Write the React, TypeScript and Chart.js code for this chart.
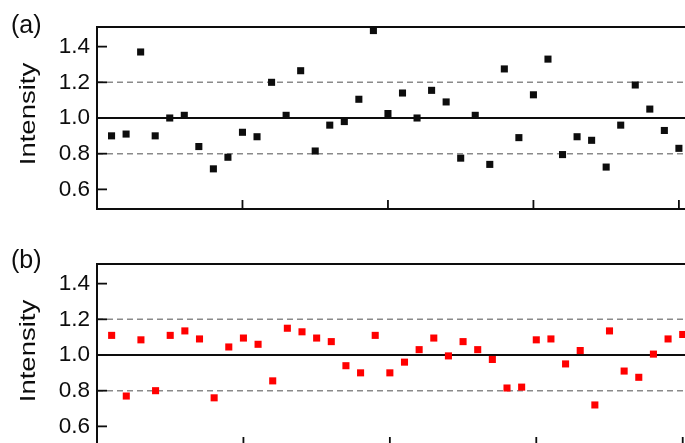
import React, { useEffect, useRef } from 'react';
import { Chart, registerables } from 'chart.js';

Chart.register(...registerables);

// ---------- data ----------
const xIndex = [
  1, 2, 3, 4, 5, 6, 7, 8, 9, 10,
  11, 12, 13, 14, 15, 16, 17, 18, 19, 20,
  21, 22, 23, 24, 25, 26, 27, 28, 29, 30,
  31, 32, 33, 34, 35, 36, 37, 38, 39, 40,
];

const seriesA = [
  0.9, 0.91, 1.37, 0.9, 1.0, 1.015, 0.84, 0.715, 0.78, 0.92,
  0.895, 1.2, 1.015, 1.265, 0.815, 0.96, 0.98, 1.105, 1.49, 1.025,
  1.14, 1.0, 1.155, 1.09, 0.775, 1.015, 0.74, 1.275, 0.89, 1.13,
  1.33, 0.795, 0.895, 0.875, 0.725, 0.96, 1.185, 1.05, 0.93, 0.83,
];

const seriesB = [
  1.11, 0.77, 1.085, 0.8, 1.11, 1.135, 1.09, 0.76, 1.045, 1.095,
  1.06, 0.855, 1.15, 1.13, 1.095, 1.075, 0.94, 0.9, 1.11, 0.9,
  0.96, 1.03, 1.095, 0.995, 1.075, 1.03, 0.975, 0.815, 0.82, 1.085,
  1.09, 0.95, 1.025, 0.72, 1.135, 0.91, 0.875, 1.005, 1.09, 1.115,
];

const yTickValues = [0.6, 0.8, 1.0, 1.2, 1.4];
const yTickLabels = ['0.6', '0.8', '1.0', '1.2', '1.4'];
const xTickValues = [10, 20, 30, 40];
const refSolid = [1.0];
const refDashed = [0.8, 1.2];
const panelLabels = ['(a)', '(b)'];
const yTitle = 'Intensity';

const FONT = '"Liberation Sans", Arial, Helvetica, sans-serif';
const INK = '#0d0d0d';

const framePlugin = {
  id: 'framePlugin',
  beforeDatasetsDraw(chart: any) {
    const { ctx, chartArea: a, scales } = chart;
    const x = scales.x;
    const y = scales.y;
    ctx.save();
    // dashed reference lines
    ctx.strokeStyle = '#8a8a8a';
    ctx.lineWidth = 1.5;
    ctx.setLineDash([6, 4]);
    refDashed.forEach((v) => {
      const py = y.getPixelForValue(v);
      ctx.beginPath();
      ctx.moveTo(a.left, py);
      ctx.lineTo(a.right, py);
      ctx.stroke();
    });
    ctx.setLineDash([]);
    // solid reference line
    ctx.strokeStyle = INK;
    ctx.lineWidth = 1.8;
    refSolid.forEach((v) => {
      const py = y.getPixelForValue(v);
      ctx.beginPath();
      ctx.moveTo(a.left, py);
      ctx.lineTo(a.right, py);
      ctx.stroke();
    });
    // frame
    ctx.lineWidth = 2;
    ctx.strokeRect(a.left, a.top, a.right - a.left, a.bottom - a.top);
    // inward ticks
    ctx.lineWidth = 1.8;
    yTickValues.forEach((v) => {
      const py = y.getPixelForValue(v);
      ctx.beginPath();
      ctx.moveTo(a.left, py);
      ctx.lineTo(a.left + 10, py);
      ctx.stroke();
    });
    xTickValues.forEach((v) => {
      const px = x.getPixelForValue(v);
      ctx.beginPath();
      ctx.moveTo(px, a.bottom);
      ctx.lineTo(px, a.bottom - 9);
      ctx.stroke();
    });
    ctx.restore();
  },
};

type PanelProps = {
  values: number[];
  color: string;
  top: number;
  width: number;
  height: number;
  padTop: number;
  padBottom: number;
  xMax: number;
  label: string;
  labelTop: number;
  titleCenterY: number;
};

function Panel(p: PanelProps) {
  const ref = useRef<HTMLCanvasElement>(null);
  useEffect(() => {
    if (!ref.current) return;
    const chart = new Chart(ref.current, {
      type: 'scatter',
      data: {
        datasets: [
          {
            data: xIndex.map((xv, i) => ({ x: xv, y: p.values[i] })),
            pointStyle: 'rect',
            pointRadius: 5,
            pointHoverRadius: 5,
            pointBackgroundColor: p.color,
            pointBorderColor: p.color,
            pointBorderWidth: 0,
            showLine: false,
          } as any,
        ],
      },
      options: {
        animation: false,
        responsive: false,
        maintainAspectRatio: false,
        devicePixelRatio: 1,
        events: [],
        layout: {
          padding: { top: p.padTop, bottom: p.padBottom, left: 0, right: 0 },
          autoPadding: false,
        } as any,
        plugins: {
          legend: { display: false },
          tooltip: { enabled: false },
          title: { display: false },
        },
        scales: {
          x: {
            type: 'linear',
            display: false,
            min: 0,
            max: p.xMax,
          },
          y: {
            type: 'linear',
            min: 0.49,
            max: 1.51,
            grid: { display: false, drawTicks: false },
            border: { display: false },
            ticks: {
              font: { family: FONT, size: 22.5 },
              color: INK,
              padding: 7,
              callback: (_v: any, i: number) => yTickLabels[i],
            },
            afterBuildTicks: (s: any) => {
              s.ticks = yTickValues.map((v) => ({ value: v }));
            },
            afterFit: (s: any) => {
              s.width = 97;
            },
          },
        },
      } as any,
      plugins: [framePlugin],
    });
    return () => chart.destroy();
  }, []);

  return (
    <>
      <canvas
        ref={ref}
        width={p.width}
        height={p.height}
        style={{ position: 'absolute', left: 0, top: p.top, width: p.width, height: p.height }}
      />
      <div
        style={{
          position: 'absolute',
          left: 11,
          top: p.labelTop,
          fontFamily: FONT,
          fontSize: 25,
          lineHeight: '25px',
          color: INK,
          whiteSpace: 'nowrap',
        }}
      >
        {p.label}
      </div>
      <div
        style={{
          position: 'absolute',
          left: 28,
          top: p.titleCenterY,
          fontFamily: FONT,
          fontSize: 22,
          lineHeight: '22px',
          color: INK,
          whiteSpace: 'nowrap',
          transform: 'translate(-50%, -50%) rotate(-90deg) scaleX(1.25)',
        }}
      >
        {yTitle}
      </div>
    </>
  );
}

export default function App() {
  return (
    <div
      style={{
        position: 'absolute',
        left: 0,
        top: 0,
        width: 685,
        height: 443,
        overflow: 'hidden',
        background: '#ffffff',
      }}
    >
      <Panel
        values={seriesA}
        color="#0d0d0d"
        top={0}
        width={708}
        height={230}
        padTop={27}
        padBottom={21}
        xMax={42}
        label={panelLabels[0]}
        labelTop={12}
        titleCenterY={114}
      />
      <Panel
        values={seriesB}
        color="#ff0000"
        top={236}
        width={712}
        height={236}
        padTop={28}
        padBottom={26}
        xMax={42}
        label={panelLabels[1]}
        labelTop={247}
        titleCenterY={351}
      />
    </div>
  );
}
